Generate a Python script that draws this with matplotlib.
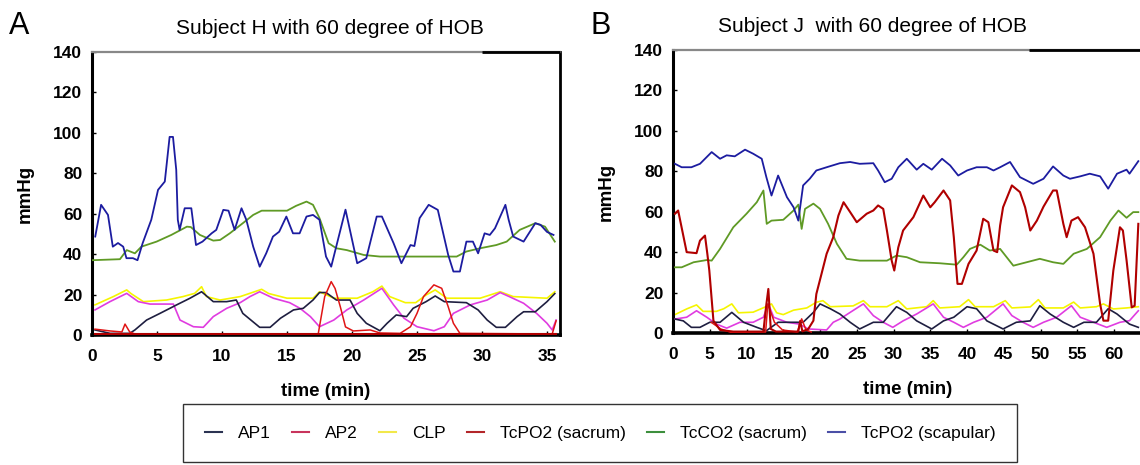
import matplotlib
matplotlib.use("Agg")
import matplotlib.pyplot as plt
from matplotlib.lines import Line2D

FONT = ['Liberation Sans', 'DejaVu Sans']
plt.rcParams['font.family'] = FONT

# ---------------- Panel A data (Subject H) ----------------
A_scap_t = [0.25,0.7,1.23,1.6,2.0,2.4,2.65,3.15,3.5,3.9,4.56,5.08,5.6,5.97,6.23,6.48,6.6,6.74,7.13,7.64,8.0,8.5,9.2,9.56,10.1,10.5,10.97,11.5,11.87,12.4,12.9,13.4,13.92,14.4,14.95,15.46,15.97,16.5,17.0,17.5,18.0,18.4,19.5,20.4,21.1,21.9,22.3,23.2,23.8,24.5,24.8,25.2,25.9,26.6,27.4,27.8,28.3,28.8,29.3,29.7,30.2,30.6,31.0,31.4,31.8,32.05,32.4,33.2,34.1,34.5,35.0,35.5]
A_scap_v = [48.7,64.4,59.4,43.7,45.5,43.7,38,38,37,45.5,57,71.8,75.9,98,98,81.7,57,52,62.7,62.7,44.5,46.2,50.3,52,61.9,61.5,52,62.7,57,43.7,33.8,40.4,48.7,51.1,58.6,50.3,50.3,58.6,59.4,57,38.8,33.8,62,35.5,38,58.6,58.6,45.4,35.5,44.5,44,57.8,64.4,61.9,39.6,31.4,31.4,46.2,46.2,40.4,50.3,49.5,52.8,58.6,64.4,57,48.7,46.2,55.3,54.5,51,49.5]

A_co2_t = [0.0,2.15,2.67,3.3,3.8,4.97,6.1,7.3,7.6,8.3,9.33,9.85,10.6,11.6,12.4,13.05,15.0,15.7,16.5,17.0,17.5,18.2,18.8,19.6,20.9,22.15,25.7,28.05,28.8,29.85,31.1,31.9,32.9,34.1,34.85,35.6]
A_co2_v = [37,37.5,42,40.4,43.7,46.2,49.5,53.6,53.4,49.5,46.7,47,50.3,55.3,59.4,61.5,61.5,63.9,66,64.4,57.8,45.4,42.9,42,39.6,38.8,38.8,38.8,41.3,42.9,44.5,46.2,52,55.3,53.6,46.2]

A_clp_t = [0.23,1.64,2.67,3.0,3.95,5.74,7.0,7.9,8.43,8.8,9.85,11.4,13.05,13.6,15.0,17.0,17.5,18.6,20.4,21.6,22.3,22.9,24.1,24.9,25.7,26.4,27.3,29.85,31.4,32.4,35.0,35.6]
A_clp_v = [14.9,19,22.3,20.5,16.5,17.3,19,20.6,23.9,19,17.3,19,22.6,20.5,18.2,18.2,21.4,18.2,18.2,21.4,24.2,19,16,16,19.8,22.3,18.2,18.2,21.4,19,18.2,21.4]

A_ap2_t = [0.23,1.38,2.67,3.56,4.46,6.26,6.77,7.8,8.56,9.33,10.36,11.4,12.15,12.9,13.95,15.2,16.0,16.8,17.5,18.6,19.6,20.9,22.3,23.2,24.0,25.0,26.3,27.1,27.8,29.1,30.4,31.4,32.1,33.2,34.2,35.0,35.4,35.7]
A_ap2_v = [12.4,16.5,20.6,16.5,15.3,15.3,7.4,4.1,3.8,9.1,13.2,16,19,21.4,18.2,16,13.2,9.1,4.1,7.4,12.4,17.3,23.1,14.9,8.3,4.1,2.1,4.1,10.7,14.9,17.3,21,19,15.7,10.7,5.8,2.5,7.4]

A_ap1_t = [0.23,1.4,2.9,3.3,4.2,5.23,6.51,7.54,8.43,9.33,10.36,11.1,11.6,12.9,13.7,14.5,15.5,16.25,17.0,17.5,18.0,18.8,19.85,20.4,21.1,22.15,22.7,23.4,24.2,24.7,25.7,26.4,27.1,28.8,29.7,30.4,31.1,31.8,32.7,33.2,34.1,35.0,35.6]
A_ap1_v = [2.5,0.8,0.8,2.5,7.4,10.7,14.9,18.2,21.4,16.5,16.5,17.3,10.7,3.8,3.8,8.3,12.4,13.2,17.3,21,21,17.3,17.3,10.7,5.8,2.1,5.8,9.9,9.1,13.2,16.5,19.3,16.5,16,12.4,7.4,3.8,3.8,9.1,11.5,11.5,16.5,20.5]

A_red_t = [0.23,1.4,2.3,2.54,2.9,3.3,17.4,17.9,18.4,18.7,19.1,19.5,20.1,21.4,22.15,23.7,24.5,25.0,25.5,26.3,26.9,27.4,27.8,28.3,35.4,35.7]
A_red_v = [2.9,2.0,1.5,5.4,1.5,0.5,0.5,19,26.4,23,14,4,2,2.5,1,0.8,4.1,10.7,19,24.8,23.1,14,5.8,0.8,0.5,7]

A_sac_t = [0.23, 35.7]
A_sac_v = [0.3, 0.3]

# ---------------- Panel B data (Subject J) ----------------
B_scap_t = [0.27,1.18,2.5,3.67,5.26,6.4,7.3,8.4,9.8,10.9,12.07,12.7,13.4,14.3,15.5,16.4,17.05,17.7,18.6,19.5,20.9,22.7,24.1,25.4,27.25,27.9,28.8,29.75,30.65,31.8,33.15,34.05,35.2,36.6,37.7,38.8,40.0,41.3,42.7,43.6,44.5,45.85,47.2,49.0,50.4,51.7,53.1,54.0,55.4,56.7,58.1,59.2,60.4,61.7,62.1,63.3]
B_scap_v = [83.7,82,82,83.7,89.5,86.2,87.9,87.4,90.7,88.7,86.2,77.1,68,77.9,67.2,62.2,55.6,73,76.3,80.4,82,84,84.6,83.7,84,80.4,74.6,76.3,82,86.2,80.8,83.7,80.8,86.2,82.9,77.9,80.4,82,82,80.4,82,84.6,77.1,73.8,76.3,82.4,77.9,76.3,77.5,78.8,77.5,71.4,78.8,80.8,78.8,85]

B_co2_t = [0.27,1.18,2.8,4.6,5.26,6.4,8.2,10.0,11.4,12.3,12.75,13.4,15.0,16.4,17.05,17.5,17.96,19.1,20.0,21.1,22.3,23.6,25.4,29.1,30.4,31.8,33.6,36.3,38.6,39.5,40.4,41.8,43.1,44.5,46.3,48.1,49.9,51.7,53.1,54.5,56.3,58.1,59.5,60.6,61.7,62.6,63.3]
B_co2_v = [32.5,32.5,35,36.1,35.8,41.6,52.3,59,64.7,70.5,54,55.6,56,60.6,63.5,51.5,61.4,64,61.4,54,44.1,36.7,35.8,35.8,38.3,37.5,35,34.5,33.8,37.5,41.6,43.7,40.8,41.6,33.3,35,36.7,35,34.2,39.2,41.6,47.4,55.6,60.6,57,59.8,59.8]

B_sac_t = [0.27,0.7,1.86,3.2,3.67,4.35,4.67,4.94,5.5,6.4,8.2,12.3,12.65,12.97,13.3,14.0,16.4,17.05,17.3,17.6,18.4,19.1,19.5,20.2,20.9,21.8,22.5,23.2,24.1,25.0,26.35,27.25,27.9,28.6,29.1,29.75,30.1,30.65,31.3,32.7,34.05,35.0,35.6,36.8,37.7,38.2,38.7,39.3,40.2,41.3,42.2,42.9,43.6,44.1,44.5,44.9,46.1,47.2,47.9,48.6,49.5,50.4,51.7,52.2,53.1,53.55,54.2,55.1,56.05,57.2,58.1,58.55,59.2,59.9,60.8,61.2,61.7,62.4,62.8,63.3]
B_sac_v = [59,60.6,40,39.5,45.7,48.2,39.2,30.9,6.1,1.5,0.7,0.7,12.7,21.8,2,0.7,0.7,0.7,6,0.8,2,6.1,19.3,29.2,39.2,47.4,58.1,64.7,59.8,54.8,59,60.6,63.1,61.4,50.7,35.8,30.9,42.4,50.7,57.3,68,62.2,64.7,70.5,65.6,47.4,24.3,24.3,34.2,40.8,56.5,54.8,40.8,40,53.2,62.2,73,69.7,62.2,50.7,55.6,62.5,70.5,70.5,54,47.4,55.6,57.3,52.3,39.2,14.4,6.1,6.1,30.9,52.3,50.7,36,12.7,13.5,54]

B_red_t = [5.2,6.5,7.9,12.6,12.9,13.8,14.9,16.9,17.5,18.1,18.8]
B_red_v = [5.3,2,0.3,0.5,14.4,5.3,1.5,0.5,7,1.5,0.5]

B_clp_t = [0.27,1.86,3.2,4.1,5.9,6.9,8.0,8.9,10.9,12.75,13.4,14.1,15.0,16.4,18.2,19.5,20.4,21.4,24.5,25.9,26.8,29.1,30.65,31.8,34.5,35.4,36.3,39.0,40.2,41.1,43.6,45.2,46.1,48.6,49.7,50.6,53.1,54.5,55.4,57.6,58.55,59.9,61.7,63.3]
B_clp_v = [9.1,11.9,13.9,10.7,10.7,12,14.4,10,10.3,13.2,14.4,10,9.1,11.3,12.4,15.2,16,13,13.4,16,13,13,16,11.9,13,16,12.4,13,16.5,13,13,16,12.4,12.9,16.5,12.4,12.4,15.3,12.4,13,14.4,11.9,12.4,13]

B_ap2_t = [0.27,1.86,3.2,4.6,5.9,7.3,9.1,10.9,12.3,12.97,13.7,15.5,17.2,18.4,20.9,21.8,22.7,24.1,25.9,27.25,28.6,29.9,31.3,33.15,35.4,36.8,38.2,39.5,40.9,42.7,44.9,46.1,47.6,49.0,50.4,52.2,54.2,55.4,57.2,59.0,60.8,62.1,63.3]
B_ap2_v = [6.9,7.8,11,7.8,4.4,2.4,5.3,5.3,7.8,14.4,7.8,5.3,4.4,2,1.5,5.3,6.9,10.2,14.4,8.6,5.3,2.8,6,9.4,14.4,7.8,5.3,2.8,5.3,7.8,14.4,8.6,5.3,2.8,5.3,7.8,13.5,7.8,5.3,2.8,5.3,6.1,11]

B_ap1_t = [0.27,1.4,2.5,3.67,5.0,6.4,8.0,9.6,11.4,12.7,14.3,15.9,17.7,19.1,20.0,21.4,22.7,24.1,25.4,27.25,28.6,30.4,31.8,33.15,35.2,36.8,38.2,40.0,41.3,42.7,44.9,46.7,48.6,49.9,51.3,53.1,54.5,55.9,57.6,59.2,60.4,62.1,63.3]
B_ap1_v = [6.9,6,2.8,2.8,5.3,5.3,10.2,5.3,2.8,1.1,5.3,5.3,5.3,10.2,14.4,12,9.4,5.3,2,5.3,5.3,13,10.2,6,2,6,7.8,13,12,6,2,5.3,6,13.5,9.4,5.3,2.8,5.3,5.3,12,9.4,4.4,2.8]

# ---------------- labels ----------------
titles = ["Subject H with 60 degree of HOB", "Subject J  with 60 degree of HOB"]
panel_letters = ["A", "B"]
yticks = [0, 20, 40, 60, 80, 100, 120, 140]
A_xticks = [0, 5, 10, 15, 20, 25, 30, 35]
B_xticks = [0, 5, 10, 15, 20, 25, 30, 35, 40, 45, 50, 55, 60]
legend_labels = ["AP1", "AP2", "CLP", "TcPO2 (sacrum)", "TcCO2 (sacrum)", "TcPO2 (scapular)"]
legend_colors = ["#2b3352", "#c8345c", "#f2e84a", "#b3262a", "#3d8f3d", "#4b4fa6"]

C_SCAP = "#1c1ca0"
C_CO2 = "#5f9a25"
C_AP1 = "#1e1e40"
C_AP2 = "#e03ce0"
C_CLP = "#f5f500"
C_RED = "#e01515"
C_SAC = "#b00000"

W, H = 1140, 465
fig = plt.figure(figsize=(W / 100, H / 100), dpi=100)

def px_axes(l, r, t, b):
    return fig.add_axes([l / W, 1 - b / H, (r - l) / W, (b - t) / H])

axA = px_axes(92, 560, 52, 335)
axB = px_axes(673, 1142, 50, 333)

def draw(ax, d, xmax, xticks, black_from):
    ax.plot(d['clp'][0], d['clp'][1], color=C_CLP, lw=1.2, zorder=2)
    ax.plot(d['ap2'][0], d['ap2'][1], color=C_AP2, lw=1.2, zorder=3)
    ax.plot(d['ap1'][0], d['ap1'][1], color=C_AP1, lw=1.2, zorder=3)
    ax.plot(d['red'][0], d['red'][1], color=C_RED, lw=1.1, zorder=4)
    ax.plot(d['sac'][0], d['sac'][1], color=C_SAC, lw=1.5, zorder=4)
    ax.plot(d['co2'][0], d['co2'][1], color=C_CO2, lw=1.3, zorder=3)
    ax.plot(d['scap'][0], d['scap'][1], color=C_SCAP, lw=1.3, zorder=5)
    ax.set_xlim(0, xmax)
    ax.set_ylim(0, 140)
    ax.set_yticks(yticks)
    ax.set_xticks(xticks)
    ax.tick_params(direction='in', length=3, width=1, labelsize=12.5)
    ax.tick_params(axis='y', pad=7)
    ax.tick_params(axis='x', pad=10)
    for lab in ax.get_xticklabels() + ax.get_yticklabels():
        lab.set_fontweight('bold')
    ax.spines['left'].set_linewidth(2.2)
    ax.spines['bottom'].set_linewidth(2.6)
    ax.spines['top'].set_color('#888888')
    ax.spines['top'].set_linewidth(1.6)
    ax.spines['right'].set_linewidth(2.0)
    ax.plot([black_from, 1.0], [1.0, 1.0], transform=ax.transAxes, color='black',
            lw=2.0, clip_on=False, zorder=10, solid_capstyle='butt')
    ax.set_xlabel("time (min)", fontsize=13.5, fontweight='bold', labelpad=14)
    ax.set_ylabel("mmHg", fontsize=13.5, fontweight='bold', labelpad=14)

dA = dict(scap=(A_scap_t, A_scap_v), co2=(A_co2_t, A_co2_v), clp=(A_clp_t, A_clp_v),
          ap2=(A_ap2_t, A_ap2_v), ap1=(A_ap1_t, A_ap1_v), red=(A_red_t, A_red_v),
          sac=(A_sac_t, A_sac_v))
dB = dict(scap=(B_scap_t, B_scap_v), co2=(B_co2_t, B_co2_v), clp=(B_clp_t, B_clp_v),
          ap2=(B_ap2_t, B_ap2_v), ap1=(B_ap1_t, B_ap1_v), red=(B_red_t, B_red_v),
          sac=(B_sac_t, B_sac_v))

draw(axA, dA, 36.0, A_xticks, 0.833)
draw(axB, dB, 63.8, B_xticks, 0.758)

fig.text(330 / W, 1 - 28 / H, titles[0], ha='center', va='center', fontsize=15)
fig.text(872 / W, 1 - 27 / H, titles[1], ha='center', va='center', fontsize=15)
fig.text(9 / W, 1 - 26 / H, panel_letters[0], ha='left', va='center', fontsize=22)
fig.text(590 / W, 1 - 26 / H, panel_letters[1], ha='left', va='center', fontsize=22)

handles = [Line2D([], [], color=c, lw=1.5) for c in legend_colors]
leg = fig.legend(handles, legend_labels, loc='center', ncol=6, mode='expand',
                 bbox_to_anchor=(183 / W, 2 / H, 834 / W, 60 / H), borderaxespad=0,
                 frameon=True, fancybox=False, edgecolor='black', fontsize=12.5,
                 handlelength=1.0, handletextpad=0.9, columnspacing=1.0, borderpad=1.25)
leg.get_frame().set_linewidth(1.0)

fig.savefig("out.png", dpi=100)
